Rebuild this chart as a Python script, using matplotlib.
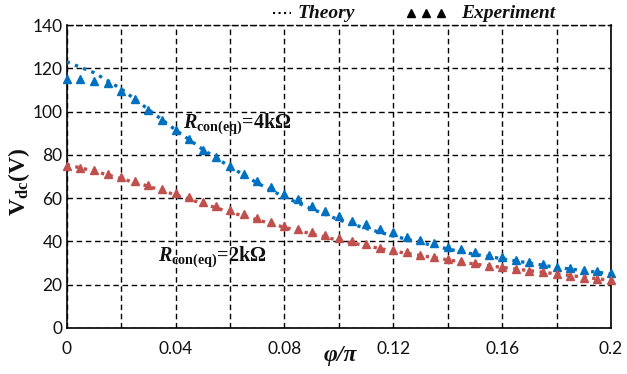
import matplotlib
matplotlib.use("Agg")
import matplotlib.pyplot as plt
from matplotlib.lines import Line2D

# ---- data -------------------------------------------------------------
phi_exp = [0.000, 0.005, 0.010, 0.015, 0.020, 0.025, 0.030, 0.035, 0.040, 0.045,
           0.050, 0.055, 0.060, 0.065, 0.070, 0.075, 0.080, 0.085, 0.090, 0.095,
           0.100, 0.105, 0.110, 0.115, 0.120, 0.125, 0.130, 0.135, 0.140, 0.145,
           0.150, 0.155, 0.160, 0.165, 0.170, 0.175, 0.180, 0.185, 0.190, 0.195,
           0.200]

vdc_exp_4k = [115.0, 115.0, 114.0, 113.0, 109.7, 105.9, 100.6, 96.0, 91.4, 87.1,
              82.2, 78.8, 74.8, 71.1, 67.7, 65.0, 61.9, 59.4, 56.3, 54.2,
              51.7, 49.6, 47.9, 45.7, 44.2, 42.2, 40.6, 39.1, 37.5, 36.3,
              34.9, 33.7, 32.6, 31.4, 30.6, 29.5, 28.3, 27.7, 26.8, 26.2,
              25.3]

vdc_exp_2k = [74.9, 74.0, 72.8, 71.2, 69.9, 68.0, 66.0, 64.0, 62.2, 60.3,
              58.3, 56.3, 54.5, 52.5, 50.6, 49.1, 47.2, 45.6, 44.2, 42.8,
              41.4, 40.2, 38.6, 37.1, 36.0, 34.9, 33.7, 32.6, 31.7, 30.9,
              29.9, 28.8, 28.0, 27.1, 26.5, 25.7, 24.8, 24.2, 23.2, 22.8,
              22.2]

phi_th = [0.00, 0.01, 0.02, 0.03, 0.04, 0.05, 0.06, 0.07, 0.08, 0.09, 0.10,
          0.11, 0.12, 0.13, 0.14, 0.15, 0.16, 0.17, 0.18, 0.19, 0.20]

vdc_th_4k = [123.0, 118.0, 110.5, 101.0, 91.5, 82.5, 74.5, 67.0, 60.5, 55.0, 50.0,
             46.0, 42.5, 39.5, 36.5, 34.0, 32.0, 30.0, 28.0, 26.5, 25.0]

vdc_th_2k = [75.5, 72.5, 69.0, 65.5, 61.5, 57.5, 53.5, 50.0, 46.5, 43.5, 40.5,
             38.0, 35.5, 33.5, 31.5, 29.5, 28.0, 26.5, 25.0, 23.5, 22.0]

x_ticks = [0.00, 0.02, 0.04, 0.06, 0.08, 0.10, 0.12, 0.14, 0.16, 0.18, 0.20]
x_tick_labels = ["0", "", "0.04", "", "0.08", "", "0.12", "", "0.16", "", "0.2"]
y_ticks = [0, 20, 40, 60, 80, 100, 120, 140]
y_tick_labels = ["0", "20", "40", "60", "80", "100", "120", "140"]

label_4k = r"$R_{\mathrm{con(eq)}}$=4kΩ"
label_2k = r"$R_{\mathrm{con(eq)}}$=2kΩ"

# ---- style ------------------------------------------------------------
BLUE = "#0070C0"
RED = "#C0504D"
SERIF = ["Liberation Serif", "DejaVu Serif"]

plt.rcParams["mathtext.fontset"] = "custom"
plt.rcParams["mathtext.rm"] = "Liberation Serif:bold"
plt.rcParams["mathtext.it"] = "Liberation Serif:italic:bold"
plt.rcParams["mathtext.bf"] = "Liberation Serif:bold"

W, H = 627, 374
fig = plt.figure(figsize=(W / 100, H / 100), dpi=100)
fig.patch.set_facecolor("white")

left, right, top, bottom = 66.7, 611.0, 25.0, 328.0
ax = fig.add_axes([left / W, 1 - bottom / H, (right - left) / W, (bottom - top) / H])

# theory curves (dotted)
ax.plot(phi_th, vdc_th_4k, linestyle=":", color=BLUE, lw=2.4, zorder=3)
ax.plot(phi_th, vdc_th_2k, linestyle=":", color=RED, lw=2.4, zorder=3)

# experimental points
ax.plot(phi_exp, vdc_exp_4k, linestyle="none", marker="^", ms=6.0,
        color=BLUE, clip_on=False, zorder=4)
ax.plot(phi_exp, vdc_exp_2k, linestyle="none", marker="^", ms=6.0,
        color=RED, clip_on=False, zorder=4)

ax.set_xlim(0, 0.2)
ax.set_ylim(0, 140)
ax.set_xticks(x_ticks)
ax.set_xticklabels(x_tick_labels)
ax.set_yticks(y_ticks)
ax.set_yticklabels(y_tick_labels)
for lab in ax.get_xticklabels() + ax.get_yticklabels():
    lab.set_fontfamily("Lato")
    lab.set_fontsize(12.5)
    lab.set_color("#111111")
ax.tick_params(axis="both", length=0)
ax.tick_params(axis="x", pad=9)
ax.tick_params(axis="y", pad=3)

dash = (0, (4, 2.6))
ax.grid(True, color="black", linestyle=dash, linewidth=1.0)
ax.set_axisbelow(True)
for side in ("left", "bottom", "right"):
    ax.spines[side].set_linewidth(1.2)
    ax.spines[side].set_color("black")
ax.spines["top"].set_linestyle(dash)
ax.spines["top"].set_linewidth(1.0)

# curve annotations
for x0, y0, txt in ((0.0428, 92.3, label_4k), (0.0336, 31.1, label_2k)):
    ax.text(x0, y0, txt, fontsize=14.5, va="baseline", ha="left",
            family=SERIF, fontweight="bold", color="#111111", zorder=5)

# axis labels
fig.text(19 / W, 1 - 182 / H, r"$\mathrm{V_{dc}(V)}$", rotation=90,
         fontsize=17, ha="center", va="center", color="#111111")
fig.text(340 / W, 1 - 356 / H, "φ/π", family=SERIF, fontweight="bold",
         fontstyle="italic", fontsize=17, ha="center", va="center", color="#111111")

# legend row above the plot
ly = 1 - 13 / H
fig.add_artist(Line2D([273 / W, 291 / W], [ly, ly], transform=fig.transFigure,
                      linestyle=":", color="black", lw=1.5))
fig.text(298 / W, 1 - 18.5 / H, "Theory", family=SERIF, fontweight="bold",
         fontstyle="italic", fontsize=14, ha="left", va="baseline", color="#111111")
fig.add_artist(Line2D([411 / W, 426 / W, 441 / W], [ly, ly, ly],
                      transform=fig.transFigure, linestyle="none", marker="^",
                      ms=6.0, color="black"))
fig.text(461 / W, 1 - 18.5 / H, "Experiment", family=SERIF, fontweight="bold",
         fontstyle="italic", fontsize=14, ha="left", va="baseline", color="#111111")

fig.savefig("out.png", dpi=100)
